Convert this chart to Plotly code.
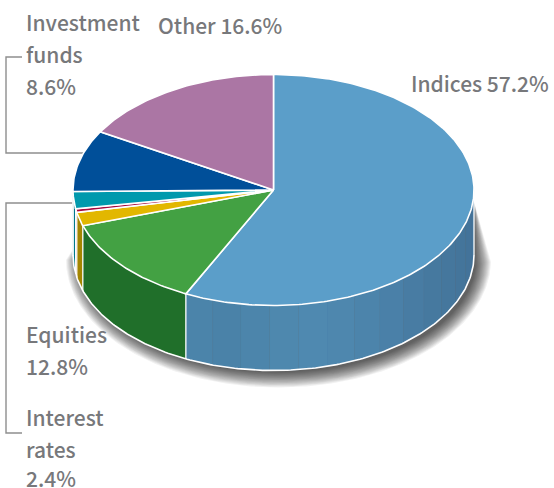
import math
import plotly.graph_objects as go

# data
categories = ["Indices", "Equities", "Commodities", "Currencies", "Interest rates", "Investment funds", "Other"]
values = [57.2, 12.8, 1.9, 0.5, 2.4, 8.6, 16.6]
top_colors = ["#5b9ec9", "#43a143", "#e2b700", "#a6093d", "#0099ad", "#004f99", "#ab76a4"]
wall_colors = ["#4a80a8", "#206f2a", "#a38500", "#7a062d", "#00788c", "#003d78", "#855a80"]
blue_bands = ["#44759b", "#43739a", "#44759b", "#45779d", "#46799f", "#487ca3", "#4a80a8",
              "#4c84ab", "#4e87ae", "#4f89b0", "#4e88ae", "#4c85ab", "#4a82a8", "#4b84aa"]
label_lines = [("Investment", 26, 22), ("funds", 26, 54), ("8.6%", 26, 86),
               ("Other 16.6%", 158, 25), ("Indices 57.2%", 411, 83),
               ("Equities", 26, 334), ("12.8%", 26, 366),
               ("Interest", 26, 417), ("rates", 26, 449), ("2.4%", 26, 478)]
leaders = [([22, 6, 6, 83], [57, 57, 153, 153]), ([73, 6, 6, 22], [203, 203, 433, 433])]

# geometry
CX, CY, RX, RY, DEPTH = 273.5, 190, 200.5, 115.5, 65
FONT = "Noto Sans CJK JP"
GRAY = "#77787b"


def pt(pct, dy=0, cx=CX, cy=CY, rx=RX, ry=RY):
    a = pct / 100 * 2 * math.pi
    return cx + rx * math.sin(a), cy - ry * math.cos(a) + dy


def arc(p0, p1, dy=0, **kw):
    n = max(2, int(abs(p1 - p0) * 4) + 2)
    pts = [pt(p0 + (p1 - p0) * i / (n - 1), dy, **kw) for i in range(n)]
    return [p[0] for p in pts], [p[1] for p in pts]


fig = go.Figure()


def poly(xs, ys, fill, line=None, width=0, opacity=None):
    fig.add_trace(go.Scatter(x=xs, y=ys, mode="lines", fill="toself", fillcolor=fill,
                             line=dict(color=line or fill, width=width), opacity=opacity,
                             hoverinfo="skip", showlegend=False))


def stroke(xs, ys, color="#ffffff", width=1.6):
    fig.add_trace(go.Scatter(x=xs, y=ys, mode="lines", line=dict(color=color, width=width),
                             hoverinfo="skip", showlegend=False))


# leader lines
for lx, ly in leaders:
    stroke(lx, ly, "#8e8e8e", 1.4)

# soft shadow: only below the disc, tapering to nothing at its widest points
for k in range(16, 0, -1):
    kw = dict(cx=CX + 5, cy=CY + 5, rx=RX + k - 4, ry=RY + k - 4)
    x1, y1 = arc(25, 75, DEPTH, **kw)
    poly([CX + RX - 1] + x1 + [CX - RX + 6], [CY + 8] + y1 + [CY + 50], "rgba(0,0,0,0.055)")

# side walls
edges = [0]
for v in values:
    edges.append(edges[-1] + v)

for i, (start, end) in enumerate(zip(edges[:-1], edges[1:])):
    s, e = max(start, 25), min(end, 75)
    if s >= e:
        continue
    bands = blue_bands if i == 0 else [wall_colors[i]]
    step = (e - s) / len(bands)
    for b, col in enumerate(bands):
        a0, a1 = s + b * step, s + (b + 1) * step
        x1, y1 = arc(a0, a1, 0)
        x2, y2 = arc(a1, a0, DEPTH)
        poly(x1 + x2, y1 + y2, col, width=0.4)

# wall edges
x_b, y_b = arc(25, 75, DEPTH)
stroke(x_b, y_b)
for p in [25] + [v for v in edges[1:] if 25 < v < 75] + [75]:
    x0, y0 = pt(p)
    stroke([x0, x0], [y0, y0 + DEPTH], width=1.3)

# top face
for i, (start, end) in enumerate(zip(edges[:-1], edges[1:])):
    xa, ya = arc(start, end)
    poly([CX] + xa + [CX], [CY] + ya + [CY], top_colors[i], "#ffffff", 1.6)

# labels
for txt, x, y in label_lines:
    fig.add_annotation(x=x, y=y, text=txt, showarrow=False, xanchor="left", yanchor="middle",
                       xshift=-2, font=dict(family=FONT, size=21, color=GRAY, weight=500))

fig.update_layout(width=554, height=488, margin=dict(l=0, r=0, t=0, b=0), autosize=False,
                  paper_bgcolor="white", plot_bgcolor="white", showlegend=False,
                  xaxis=dict(range=[0, 554], visible=False, fixedrange=True),
                  yaxis=dict(range=[488, 0], visible=False, fixedrange=True))
fig.write_html("out.html", config={"displayModeBar": False},
               post_script="document.body.style.margin='0';document.body.style.overflow='hidden';")
